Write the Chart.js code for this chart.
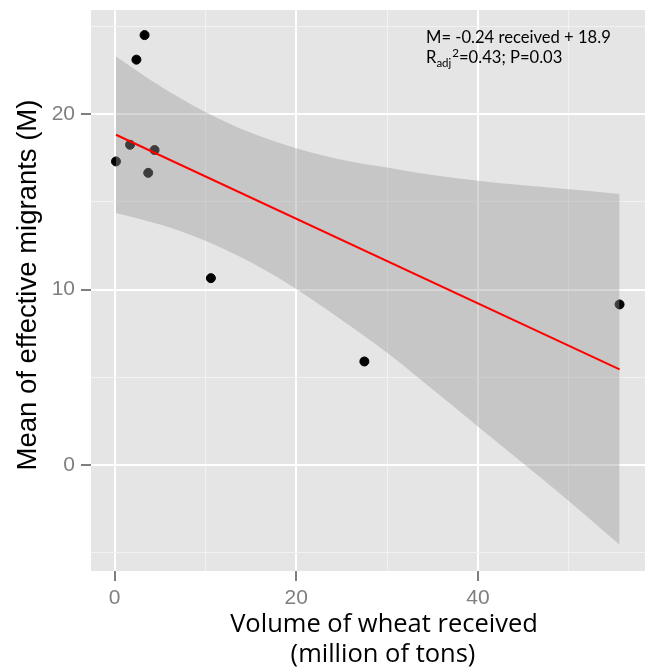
<!DOCTYPE html>
<html>
<head>
<meta charset="utf-8">
<script src="https://cdn.jsdelivr.net/npm/chart.js@4.4.1/dist/chart.umd.min.js"></script>
<style>
  html, body { margin: 0; padding: 0; background: #fff; }
  #wrap { width: 645px; height: 671px; }
</style>
</head>
<body>
<div id="wrap"><canvas id="scatterChart" width="645" height="671"></canvas></div>
<script>
// wheat received (million tons) vs mean effective migrants
var wheatX = [0.15, 1.7, 2.4, 3.3, 3.7, 4.4, 10.6, 27.5, 55.6];
var migrantsY = [17.3, 18.25, 23.1, 24.5, 16.65, 17.95, 10.65, 5.9, 9.15];

// fitted line ends
var fitX = [0.15, 55.6];
var fitY = [18.82, 5.45];

// confidence band
var bandX = [0.15, 5, 10, 15, 20, 25, 30, 35, 40, 45, 50, 55.6];
var bandLow = [14.36, 13.7, 12.78, 11.55, 10.03, 8.26, 6.4, 4.32, 2.2, 0.08, -2.05, -4.55];
var bandHigh = [23.28, 21.6, 20.12, 18.93, 18.05, 17.4, 16.95, 16.52, 16.2, 15.94, 15.72, 15.45];

var xTicks = [0, 20, 40];
var yTicks = [0, 10, 20];

function pts(xs, ys) {
    return xs.map(function (x, i) { return { x: x, y: ys[i] }; });
}

var panelBg = {
    id: 'panelBg',
    beforeDraw: function (chart) {
        var a = chart.chartArea, c = chart.ctx;
        c.save();
        c.fillStyle = '#E5E5E5';
        c.fillRect(a.left, a.top, a.right - a.left, a.bottom - a.top);
        c.restore();
    }
};

var labels = {
    id: 'labels',
    afterDraw: function (chart) {
        var c = chart.ctx;
        c.save();
        c.fillStyle = '#000';
        // y axis title
        c.save();
        c.translate(28, 285);
        c.rotate(-Math.PI / 2);
        c.textAlign = 'center';
        c.textBaseline = 'middle';
        c.font = '27.5px "Liberation Sans"';
        c.fillText('Mean of effective migrants (M)', 0, 0);
        c.restore();
        // x axis title (two lines)
        c.textAlign = 'center';
        c.textBaseline = 'alphabetic';
        c.font = '25.5px "Open Sans"';
        c.fillText('Volume of wheat received', 384, 632);
        c.fillText('(million of tons)', 383, 662);
        // equation text
        c.textAlign = 'left';
        c.font = '16.6px Lato';
        c.fillText('M= -0.24 received + 18.9', 426, 43);
        var x = 426, y = 63;
        c.fillText('R', x, y);
        x += c.measureText('R').width;
        c.font = '11.5px Lato';
        c.fillText('adj', x, y + 4);
        var w = c.measureText('adj').width;
        c.fillText('2', x + w + 1, y - 6);
        x += w + 1 + c.measureText('2').width;
        c.font = '16.6px Lato';
        c.fillText('=0.43; P=0.03', x, y);
        c.restore();
    }
};

function gridColor(step) {
    return function (ctx) {
        return ctx.tick && ctx.tick.value % step === 0 ? '#FFFFFF' : '#F2F2F2';
    };
}
function gridWidth(step) {
    return function (ctx) {
        return ctx.tick && ctx.tick.value % step === 0 ? 2 : 1;
    };
}
function tickColor(step) {
    return function (ctx) {
        return ctx.tick && ctx.tick.value % step === 0 ? '#7F7F7F' : 'rgba(0,0,0,0)';
    };
}

var ctxS = document.getElementById('scatterChart').getContext('2d');
var myChart = new Chart(ctxS, {
    type: 'scatter',
    data: {
        datasets: [{
            label: 'observed',
            data: pts(wheatX, migrantsY),
            backgroundColor: '#000',
            borderColor: '#000',
            pointRadius: 4.5,
            order: 3
        }, {
            label: 'band low',
            data: pts(bandX, bandLow),
            showLine: true,
            borderWidth: 0,
            borderColor: 'rgba(0,0,0,0)',
            pointRadius: 0,
            cubicInterpolationMode: 'monotone',
            fill: false,
            order: 2
        }, {
            label: 'band high',
            data: pts(bandX, bandHigh),
            showLine: true,
            borderWidth: 0,
            borderColor: 'rgba(0,0,0,0)',
            backgroundColor: 'rgba(153,153,153,0.4)',
            pointRadius: 0,
            cubicInterpolationMode: 'monotone',
            fill: '-1',
            order: 1
        }, {
            label: 'fit',
            data: pts(fitX, fitY),
            showLine: true,
            borderColor: '#FF0000',
            borderWidth: 2,
            pointRadius: 0,
            fill: false,
            order: 0
        }]
    },
    options: {
        responsive: false,
        animation: false,
        layout: { autoPadding: false, padding: { top: 10, right: 0, left: 0, bottom: 0 } },
        plugins: {
            legend: { display: false },
            tooltip: { enabled: false }
        },
        scales: {
            x: {
                type: 'linear',
                min: -2.6,
                max: 58.4,
                afterFit: function (s) { s.height = 100; s.paddingLeft = 0; s.paddingRight = 0; },
                grid: {
                    color: gridColor(20),
                    lineWidth: gridWidth(20),
                    tickColor: tickColor(20),
                    tickWidth: 2,
                    tickLength: 10
                },
                border: { display: false },
                ticks: {
                    stepSize: 10,
                    includeBounds: false,
                    maxRotation: 0,
                    padding: 5,
                    color: '#7F7F7F',
                    font: { family: 'Liberation Sans', size: 21 },
                    callback: function (v) { return xTicks.indexOf(v) >= 0 ? String(v) : ''; }
                }
            },
            y: {
                type: 'linear',
                min: -6.04,
                max: 25.93,
                afterFit: function (s) { s.width = 91; s.paddingTop = 0; s.paddingBottom = 0; },
                grid: {
                    color: gridColor(10),
                    lineWidth: gridWidth(10),
                    tickColor: tickColor(10),
                    tickWidth: 2,
                    tickLength: 10
                },
                border: { display: false },
                ticks: {
                    stepSize: 5,
                    includeBounds: false,
                    padding: 6,
                    color: '#7F7F7F',
                    font: { family: 'Liberation Sans', size: 21 },
                    callback: function (v) { return yTicks.indexOf(v) >= 0 ? String(v) : ''; }
                }
            }
        }
    },
    plugins: [panelBg, labels]
});
</script>
</body>
</html>
